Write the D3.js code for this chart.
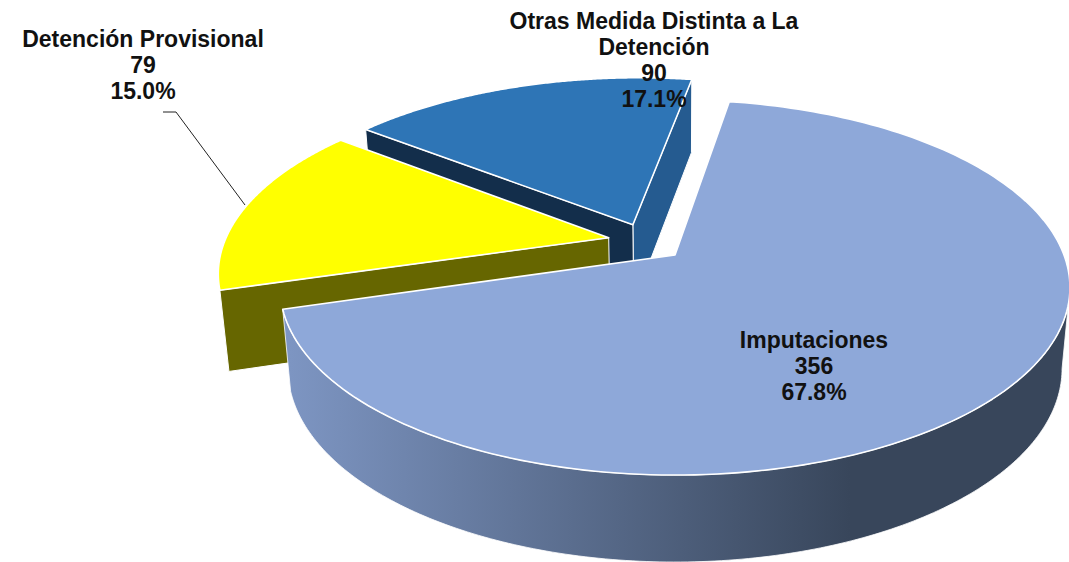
<!DOCTYPE html>
<html><head><meta charset="utf-8">
<script src="https://cdn.jsdelivr.net/npm/d3@7/dist/d3.min.js"></script>
<style>html,body{margin:0;padding:0;background:#fff}svg{display:block}
text{font-family:"Liberation Sans",Arial,sans-serif;font-weight:700;font-size:23px;fill:#111;text-anchor:middle}</style>
</head><body><svg id="c" width="1069" height="562"></svg>
<script>
const categories=["Imputaciones","Detención Provisional","Otras Medida Distinta a La Detención"];
const values=[356,79,90];
const percents=["67.8%","15.0%","17.1%"];
const topColors=["#8EA8D9","#FFFF00","#2E75B6"];
const startSideColors=["none","#666600","#255B90"];
const endSideColors=["none","#666600","#132E4B"];

const W=1069,H=562,cx=675,cy=255,A=389,B=182,K=.173,EXPL=.1,LIFT=.012,SX=.98,DZ=80,KZ=.08;
const rad=d=>d*Math.PI/180;
const svg=d3.select("#c");
const arcs=d3.pie().sort(null).value(d=>d).startAngle(rad(9.4)).endAngle(rad(369.4))(values);
const dir=a=>[Math.sin(a),-Math.cos(a)];
const mid=d=>(d.startAngle+d.endAngle)/2;
const base=dir(mid(arcs[0]));
const off=arcs.map((d,i)=>{const m=dir(mid(d));return [EXPL*(m[0]-base[0]),EXPL*(m[1]-base[1])-(i?LIFT:0)];});
const proj=(u,v)=>{const w=1-K*v;return [cx+A*u/w,cy+B*v/w];};
const projB=(u,v)=>{const p=proj(u,v);return [cx+(p[0]-cx)*SX,p[1]+DZ/(1-KZ*v)];};
const pt=(i,a,r,f)=>{const m=dir(a);return f(off[i][0]+r*m[0],off[i][1]+r*m[1]);};
const line=d3.line();
const arcPts=(i,a0,a1,f)=>d3.range(0,181).map(k=>pt(i,a0+(a1-a0)*k/180,1,f));

const defs=svg.append("defs");
const g=defs.append("linearGradient").attr("id","wall").attr("gradientUnits","userSpaceOnUse")
 .attr("x1",290).attr("x2",850).attr("y1",0).attr("y2",0);
g.append("stop").attr("offset",0).attr("stop-color","#7D95C2");
g.append("stop").attr("offset",1).attr("stop-color","#38465B");

function sideRadial(i,a,color){
 const p=[pt(i,a,0,proj),pt(i,a,1,proj),pt(i,a,1,projB),pt(i,a,0,projB)];
 svg.append("path").attr("d",line(p)+"Z").attr("fill",color).attr("stroke","#fff").attr("stroke-width",1);
}
function topFace(i){
 const d=arcs[i];
 const p=[pt(i,d.startAngle,0,proj),...arcPts(i,d.startAngle,d.endAngle,proj)];
 svg.append("path").attr("d",line(p)+"Z").attr("fill",topColors[i]).attr("stroke","#fff").attr("stroke-width",1.6).attr("stroke-linejoin","round");
}
// back to front: blue slice, yellow slice, large slice
sideRadial(2,arcs[2].endAngle,startSideColors[2]);
sideRadial(2,arcs[2].startAngle,endSideColors[2]);
topFace(2);
sideRadial(1,arcs[1].startAngle,startSideColors[1]);
topFace(1);
// outer wall of the large slice
const a0=rad(100),a1=arcs[0].endAngle;
const wall=[...arcPts(0,a0,a1,proj),...arcPts(0,a1,a0,projB)];
svg.append("path").attr("d",line(wall)+"Z").attr("fill","url(#wall)").attr("stroke","#fff").attr("stroke-width",.8);
topFace(0);

const labels=[
 {lines:["Imputaciones","356","67.8%"],x:814,y:348},
 {lines:["Detención Provisional","79","15.0%"],x:143,y:47},
 {lines:["Otras Medida Distinta a La","Detención","90","17.1%"],x:654,y:29}
];
labels.forEach((l,i)=>{
 const t=svg.append("text");
 l.lines.forEach((s,j)=>t.append("tspan").attr("x",l.x).attr("y",l.y+j*26).text(s));
});
svg.append("path").attr("d",line([[163,112],[176,112],[245,205]])).attr("fill","none").attr("stroke","#222").attr("stroke-width",1);
</script></body></html>
